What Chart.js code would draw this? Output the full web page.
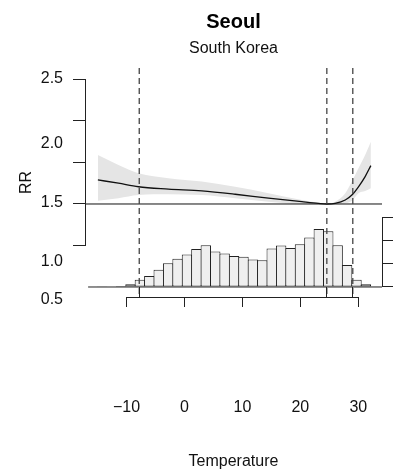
<!DOCTYPE html>
<html><head><meta charset="utf-8">
<script src="https://cdn.jsdelivr.net/npm/chart.js@4/dist/chart.umd.min.js"></script>
<style>html,body{margin:0;padding:0;background:#fff;}canvas{display:block;}</style>
</head><body>
<canvas id="c" width="405" height="471"></canvas>
<script>
// ---- data ----
const curveTemps = [-14.94, -11.39, -7.94, -2.76, 3.00, 8.75, 14.50, 20.26, 23.12, 24.57, 26.00, 27.75, 28.89, 30.03, 31.18, 32.17];
const rrFit   = [1.116, 1.100, 1.083, 1.072, 1.063, 1.047, 1.028, 1.011, 1.003, 1.000, 1.003, 1.019, 1.043, 1.083, 1.132, 1.185];
const rrUpper = [1.236, 1.188, 1.148, 1.124, 1.108, 1.083, 1.052, 1.019, 1.006, 1.001, 1.011, 1.052, 1.108, 1.172, 1.236, 1.300];
const rrLower = [1.016, 1.028, 1.043, 1.047, 1.043, 1.028, 1.011, 1.000, 1.000, 1.000, 1.000, 1.003, 1.015, 1.052, 1.063, 1.076];
const refRR = 1.0;

const histBinStarts = [-16.625, -15.0, -13.375, -11.75, -10.125, -8.5, -6.875, -5.25, -3.625, -2.0, -0.375, 1.25, 2.875, 4.5, 6.125, 7.75, 9.375, 11.0, 12.625, 14.25, 15.875, 17.5, 19.125, 20.75, 22.375, 24.0, 25.625, 27.25, 28.875, 30.5, 32.125, 33.75];
const histBinWidth = 1.625;
const histCounts = [0, 1, 2, 4, 12, 32, 48, 75, 103, 123, 141, 165, 181, 154, 146, 135, 132, 119, 116, 167, 180, 170, 186, 215, 252, 242, 182, 96, 32, 12, 3, 0];

const cutoffs = [-7.8, 24.57, 29.05];

const xTicks = [-10, 0, 10, 20, 30];
const xTickLabels = ['\u221210', '0', '10', '20', '30'];
const rrTicks = [0.8, 1.0, 1.2, 1.4, 1.6];
const rrLabelTexts = ['2.5', '2.0', '1.5', '1.0', '0.5'];
const rrLabelAt = [1.602, 1.293, 1.007, 0.723, 0.540];
const histTicks = [0, 100, 200, 300];

// ---- axis ranges ----
const xMin = -17.16, xMax = 34.09;
const yMin = 0.552, yMax = 1.655;
const y2Min = -43.5, y2Max = 952;

const FAM = "'Liberation Sans', Arial, Helvetica, sans-serif";
const INK = '#222';

const pts = (xs, ys) => xs.map((x, i) => ({x: x, y: ys[i]}));

const axisLines = {
  id: 'axisLines',
  afterDatasetsDraw(chart) {
    const {ctx, chartArea: a, scales} = chart;
    const {x, y, y2} = scales;
    const al = p => Math.round(p - 0.5) + 0.5;
    ctx.save();
    ctx.strokeStyle = INK;
    ctx.lineWidth = 1;
    ctx.lineCap = 'square';
    ctx.beginPath();
    const yb = al(a.bottom);
    ctx.moveTo(al(x.getPixelForValue(xTicks[0])), yb);
    ctx.lineTo(al(x.getPixelForValue(xTicks[xTicks.length - 1])), yb);
    const xl = al(a.left);
    ctx.moveTo(xl, al(y.getPixelForValue(rrTicks[0])));
    ctx.lineTo(xl, al(y.getPixelForValue(rrTicks[rrTicks.length - 1])));
    const xr = al(a.right);
    ctx.moveTo(xr, al(y2.getPixelForValue(histTicks[0])));
    ctx.lineTo(xr, al(y2.getPixelForValue(histTicks[histTicks.length - 1])));
    cutoffs.forEach(c => {
      const px = al(x.getPixelForValue(c));
      ctx.moveTo(px, yb);
      ctx.lineTo(px, yb - 10);
    });
    ctx.stroke();
    ctx.restore();
  }
};

const datasets = [
  {type: 'line', data: pts(curveTemps, rrUpper), borderWidth: 0, pointRadius: 0, fill: '+1',
   backgroundColor: '#e5e5e5', cubicInterpolationMode: 'monotone', order: 6},
  {type: 'line', data: pts(curveTemps, rrLower), borderWidth: 0, pointRadius: 0, fill: false,
   cubicInterpolationMode: 'monotone', order: 6},
  {type: 'line', data: pts(curveTemps, rrFit), borderColor: '#111', borderWidth: 1.3, pointRadius: 0,
   fill: false, cubicInterpolationMode: 'monotone', order: 4},
  {type: 'line', data: [{x: xMin, y: refRR}, {x: xMax, y: refRR}], borderColor: '#111', borderWidth: 1,
   pointRadius: 0, fill: false, order: 3},
  {type: 'bar', yAxisID: 'y2', data: histBinStarts.map((s, i) => ({x: s + histBinWidth / 2, y: histCounts[i]})),
   backgroundColor: '#efefef', borderColor: INK, borderWidth: 1, borderSkipped: false,
   barPercentage: 1.106, categoryPercentage: 1, order: 2},
  {type: 'line', yAxisID: 'y2', data: [{x: histBinStarts[0], y: 0}, {x: xMax, y: 0}], borderColor: INK,
   borderWidth: 1, pointRadius: 0, fill: false, order: 1}
].concat(cutoffs.map(c => ({
  type: 'line', data: [{x: c, y: yMax}, {x: c, y: yMin}], borderColor: '#444', borderWidth: 1.3,
  borderDash: [6, 4], pointRadius: 0, fill: false, order: 0
})));

new Chart(document.getElementById('c'), {
  type: 'line',
  data: {datasets: datasets},
  plugins: [axisLines],
  options: {
    responsive: false,
    animation: false,
    devicePixelRatio: 1,
    layout: {padding: {left: 9, right: 12, top: 0, bottom: 0}},
    plugins: {
      legend: {display: false},
      tooltip: {enabled: false},
      title: {display: true, text: 'Seoul', fullSize: false, color: '#000',
              font: {family: FAM, size: 20, weight: 'bold'}, padding: {top: 10, bottom: 0}},
      subtitle: {display: true, text: 'South Korea', fullSize: false, color: '#111',
                 font: {family: FAM, size: 16, weight: 'normal'}, padding: {top: 4.7, bottom: 10.1}}
    },
    scales: {
      x: {type: 'linear', position: 'bottom', min: xMin, max: xMax, offset: false, weight: 0,
          afterBuildTicks: s => { s.ticks = xTicks.map(v => ({value: v})); },
          ticks: {display: false},
          grid: {drawOnChartArea: false, drawTicks: true, tickLength: 10, color: INK, lineWidth: 1, offset: false},
          border: {display: false},
          title: {display: true, text: ' ', font: {family: FAM, size: 1}, padding: {top: 89.7, bottom: 0}}},
      xLab: {type: 'linear', position: 'bottom', min: xMin, max: xMax, offset: false, weight: 1,
          afterBuildTicks: s => { s.ticks = xTicks.map(v => ({value: v})); },
          ticks: {callback: (v, i) => xTickLabels[i], padding: 0, autoSkip: false, maxRotation: 0, minRotation: 0,
                  color: '#111', font: {family: FAM, size: 16}},
          grid: {display: false, drawTicks: false},
          border: {display: false},
          title: {display: true, text: 'Temperature', color: '#111', font: {family: FAM, size: 16},
                  padding: {top: 34.7, bottom: 0}}},
      y: {type: 'linear', position: 'left', min: yMin, max: yMax, weight: 0,
          afterBuildTicks: s => { s.ticks = rrTicks.map(v => ({value: v})); },
          ticks: {display: false},
          grid: {drawOnChartArea: false, drawTicks: true, tickLength: 12, color: INK, lineWidth: 1},
          border: {display: false}},
      yLab: {type: 'linear', position: 'left', min: yMin, max: yMax, weight: 1,
          afterBuildTicks: s => { s.ticks = rrLabelAt.map(v => ({value: v})); },
          ticks: {callback: (v, i) => rrLabelTexts[i], padding: 10, autoSkip: false, color: '#111',
                  font: {family: FAM, size: 16}},
          grid: {display: false, drawTicks: false},
          border: {display: false},
          title: {display: true, text: 'RR', color: '#111', font: {family: FAM, size: 16},
                  padding: {top: 7.9, bottom: 4.7}}},
      y2: {type: 'linear', position: 'right', min: y2Min, max: y2Max,
          afterBuildTicks: s => { s.ticks = histTicks.map(v => ({value: v})); },
          ticks: {display: false},
          grid: {drawOnChartArea: false, drawTicks: true, tickLength: 11, color: INK, lineWidth: 1},
          border: {display: false}}
    }
  }
});
</script>
</body></html>
